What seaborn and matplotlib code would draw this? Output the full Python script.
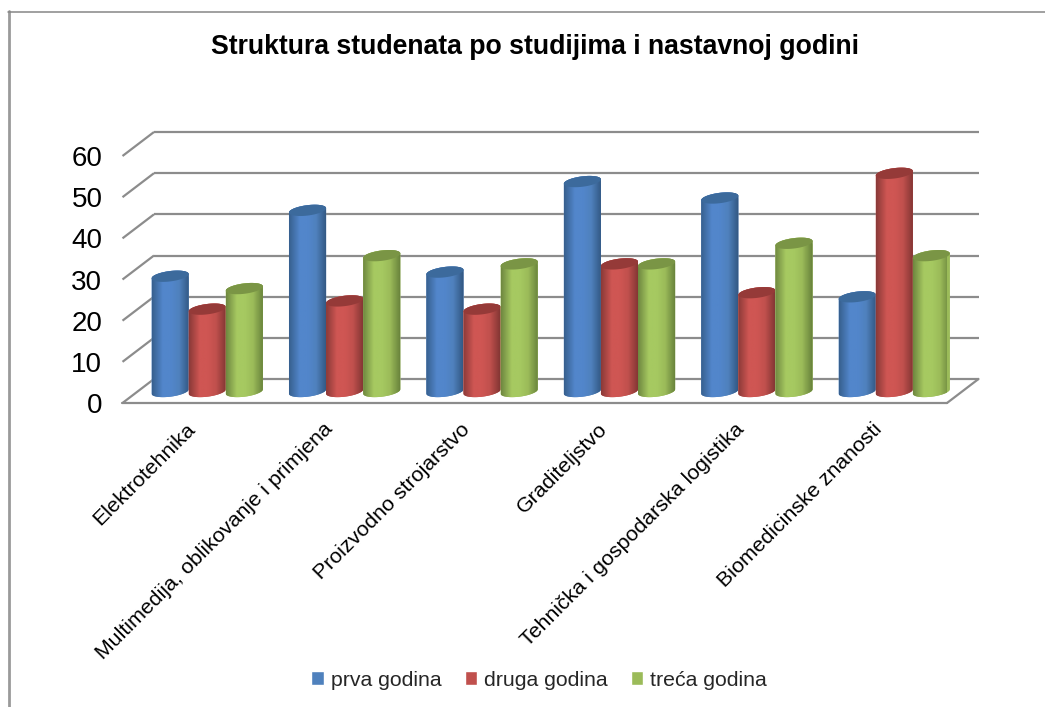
import numpy as np
import pandas as pd
import matplotlib
matplotlib.use("Agg")
import matplotlib.pyplot as plt
from matplotlib.colors import LinearSegmentedColormap
from matplotlib.lines import Line2D
from matplotlib.patches import Polygon
from matplotlib.transforms import Affine2D
import seaborn as sns

categories = ["Elektrotehnika", "Multimedija, oblikovanje i primjena", "Proizvodno strojarstvo",
              "Graditeljstvo", "Tehnička i gospodarska logistika", "Biomedicinske znanosti"]
series_names = ["prva godina", "druga godina", "treća godina"]
prva = [28, 44, 29, 51, 47, 23]
druga = [20, 22, 20, 31, 24, 53]
treca = [25, 33, 31, 31, 36, 33]
y_ticks = [0, 10, 20, 30, 40, 50, 60]
title = "Struktura studenata po studijima i nastavnoj godini"

legend_colors = ["#4F81BD", "#C0504D", "#9BBB59"]
edge_left = ["#37608F", "#8B3A38", "#6F8840"]
edge_right = ["#315680", "#7F3432", "#66803A"]
centre = ["#5286CB", "#CF5653", "#A6C961"]
top_colors = ["#3C6A9C", "#953A38", "#7A9545"]

W, H, DPI = 1045, 707, 100
sns.set_theme(style="white", rc={"font.family": "Liberation Sans"})
fig = plt.figure(figsize=(W / DPI, H / DPI), dpi=DPI, facecolor="white")
L, R, Y0, Y60 = 122.5, 947.0, 403.0, 156.0
ax = fig.add_axes([L / W, (H - Y0) / H, (R - L) / W, (Y0 - Y60) / H])

df = pd.DataFrame({
    "studij": categories * 3,
    "godina": np.repeat(series_names, len(categories)),
    "broj": prva + druga + treca,
})
sns.barplot(data=df, x="studij", y="broj", hue="godina", order=categories, hue_order=series_names,
            palette=legend_colors, width=0.81, gap=0, saturation=1, errorbar=None, ax=ax, zorder=3)
ax.set_xlim(-0.5, 5.5)
ax.set_ylim(0, 60)
ax.set_xlabel("")
ax.set_ylabel("")
for s in ax.spines.values():
    s.set_visible(False)

# pixel scale of the axes
px_x = (len(categories)) / (R - L)
px_y = 60 / (Y0 - Y60)

# back wall + floor
grid_c = "#8C8C8C"
grid_lw = 1.6
back = ax.transData + Affine2D().translate(31.5, 24)
ax.hlines(y_ticks, -0.5, 5.5, colors=grid_c, lw=grid_lw, transform=back, clip_on=False, zorder=1)
for v in y_ticks:
    ax.plot([-0.5, -0.5 + 31.5 * px_x], [v, v + 24 * px_y], color=grid_c, lw=grid_lw, clip_on=False, zorder=1,
            solid_capstyle="butt")
ax.plot([-0.5, 5.5], [0, 0], color=grid_c, lw=grid_lw, clip_on=False, zorder=2)
ax.plot([5.5, 5.5 + 31.5 * px_x], [0, 24 * px_y], color=grid_c, lw=grid_lw, clip_on=False, zorder=2)

# cylinders built on seaborn's bars
shift = ax.transData + Affine2D().translate(16, 11.5)
b_px, tilt_px = 5.2, 2.2
bars = [p for c in ax.containers for p in c.patches]
for i, bar in enumerate(bars):
    s = i // len(categories)
    z = 3 + i * 0.01
    x0, w, h = bar.get_x(), bar.get_width(), bar.get_height()
    x1 = x0 + w
    cx = x0 + w / 2
    a = w / 2
    b = b_px * px_y
    tilt = tilt_px * px_y
    t_low = np.linspace(np.pi, 2 * np.pi, 40)
    low = np.c_[cx + a * np.cos(t_low), b * np.sin(t_low) + tilt * np.cos(t_low)]
    t_up = np.linspace(0, np.pi, 40)
    up = np.c_[cx + a * np.cos(t_up), h + b * np.sin(t_up) + tilt * np.cos(t_up)]
    sil = Polygon(np.vstack([low, up]), closed=True, transform=shift, fc=legend_colors[s], ec="none",
                  clip_on=False, zorder=z)
    ax.add_patch(sil)
    bar.set_transform(shift)
    bar.set_clip_path(sil)
    bar.set_zorder(z)
    cmap = LinearSegmentedColormap.from_list("c", [(0, edge_left[s]), (0.28, centre[s]), (0.5, centre[s]),
                                                   (0.72, legend_colors[s]), (1, edge_right[s])])
    im = ax.imshow(np.linspace(0, 1, 64)[None, :], cmap=cmap, vmin=0, vmax=1, aspect="auto", interpolation="bilinear",
                   extent=(x0, x1, -2 * b, h + 2 * b), transform=shift, zorder=z + 0.001)
    im.set_clip_path(sil)
    t_all = np.linspace(0, 2 * np.pi, 80)
    top = np.c_[cx + a * np.cos(t_all), h + b * np.sin(t_all) + tilt * np.cos(t_all)]
    ax.add_patch(Polygon(top, closed=True, transform=shift, fc=top_colors[s], ec="none", clip_on=False, zorder=z + 0.002))
ax.set_xlim(-0.5, 5.5)
ax.set_ylim(0, 60)

ax.set_yticks(y_ticks)
ax.set_yticklabels([str(v) for v in y_ticks], fontsize=20, color="black")
ax.tick_params(axis="y", length=0, pad=14.5)
ax.tick_params(axis="x", length=0, pad=12)
ax.set_xticks(range(len(categories)))
ax.set_xticklabels(categories, rotation=45, ha="right", rotation_mode="anchor", fontsize=15.4, color="black")
for lab in ax.get_xticklabels():
    lab.set_transform(lab.get_transform() + Affine2D().translate(-6, 0))

fig.text(535 / W, 1 - 47.5 / H, title, ha="center", va="center", fontsize=19.2, fontweight="bold", color="black")

# legend
sns.move_legend(ax, "center", bbox_to_anchor=(539 / W, 1 - 680 / H), bbox_transform=fig.transFigure, ncol=3,
                frameon=False, title=None, fontsize=15.3, handlelength=0.6, handleheight=0.6,
                handletextpad=0.3, columnspacing=1.1)

# chart frame
fig.add_artist(Line2D([8.5 / W, 8.5 / W], [0, 1 - 11 / H], color="#9A9A9A", lw=2))
fig.add_artist(Line2D([7.5 / W, 1], [1 - 11.5 / H, 1 - 11.5 / H], color="#868686", lw=1.1))

fig.savefig("out.png", dpi=DPI, facecolor="white")
